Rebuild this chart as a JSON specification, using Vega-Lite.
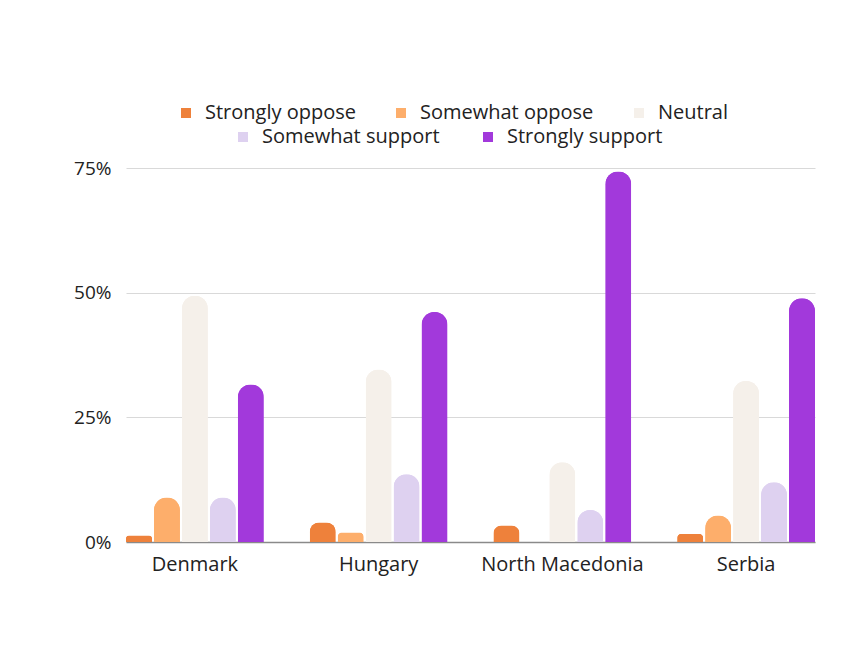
{
  "$schema": "https://vega.github.io/schema/vega-lite/v6.json",
  "width": 689,
  "height": 374,
  "autosize": {"type": "none"},
  "padding": {"left": 126, "top": 168, "right": 47, "bottom": 117},
  "background": "white",
  "config": {"view": {"stroke": null}, "font": "Open Sans"},
  "data": {
    "values": [
      {"country": "Denmark", "response": "Strongly oppose", "value": 1.3},
      {"country": "Denmark", "response": "Somewhat oppose", "value": 8.9},
      {"country": "Denmark", "response": "Neutral", "value": 49.4},
      {"country": "Denmark", "response": "Somewhat support", "value": 8.9},
      {"country": "Denmark", "response": "Strongly support", "value": 31.6},
      {"country": "Hungary", "response": "Strongly oppose", "value": 3.9},
      {"country": "Hungary", "response": "Somewhat oppose", "value": 1.9},
      {"country": "Hungary", "response": "Neutral", "value": 34.6},
      {"country": "Hungary", "response": "Somewhat support", "value": 13.6},
      {"country": "Hungary", "response": "Strongly support", "value": 46.1},
      {"country": "North Macedonia", "response": "Strongly oppose", "value": 3.3},
      {"country": "North Macedonia", "response": "Somewhat oppose", "value": 0},
      {"country": "North Macedonia", "response": "Neutral", "value": 16},
      {"country": "North Macedonia", "response": "Somewhat support", "value": 6.4},
      {"country": "North Macedonia", "response": "Strongly support", "value": 74.3},
      {"country": "Serbia", "response": "Strongly oppose", "value": 1.6},
      {"country": "Serbia", "response": "Somewhat oppose", "value": 5.3},
      {"country": "Serbia", "response": "Neutral", "value": 32.3},
      {"country": "Serbia", "response": "Somewhat support", "value": 12},
      {"country": "Serbia", "response": "Strongly support", "value": 48.9}
    ]
  },
  "encoding": {
    "x": {
      "field": "country", "type": "nominal", "sort": null,
      "scale": {"paddingInner": 0.25, "paddingOuter": 0},
      "axis": {"title": null, "labelAngle": 0, "ticks": false, "domainColor": "#8a8a8a", "domainWidth": 1.5, "labelFontSize": 20, "labelColor": "#222222", "labelPadding": 12}
    },
    "xOffset": {
      "field": "response", "type": "nominal",
      "sort": ["Strongly oppose", "Somewhat oppose", "Neutral", "Somewhat support", "Strongly support"],
      "scale": {"paddingInner": 0.07, "paddingOuter": 0}
    },
    "y": {
      "field": "value", "type": "quantitative",
      "scale": {"domain": [0, 75], "nice": false},
      "axis": {"title": null, "domain": false, "ticks": false, "values": [0, 25, 50, 75], "labelExpr": "datum.value + '%'", "gridColor": "#d9d9d9", "labelFontSize": 19, "labelColor": "#222222", "labelPadding": 15}
    }
  },
  "layer": [
    {
      "mark": {"type": "bar", "cornerRadiusTopLeft": 13, "cornerRadiusTopRight": 13},
      "encoding": {
        "color": {
          "field": "response", "type": "nominal",
          "scale": {"domain": ["Strongly oppose", "Somewhat oppose", "Neutral", "Somewhat support", "Strongly support"], "range": ["#EE813B", "#FDAE6B", "#F5F0EA", "#DED1F0", "#A239DB"]},
          "legend": {"values": ["Strongly oppose", "Somewhat oppose", "Neutral"], "orient": "none", "legendX": 50, "legendY": -65, "direction": "horizontal", "title": null, "symbolType": "square", "symbolSize": 100, "symbolStrokeWidth": 0, "labelFontSize": 20, "labelColor": "#222222", "labelOffset": 9, "columnPadding": 35, "padding": 0, "labelLimit": 300}
        }
      }
    },
    {
      "mark": {"type": "bar", "cornerRadiusTopLeft": 13, "cornerRadiusTopRight": 13},
      "encoding": {
        "color": {
          "field": "response", "type": "nominal",
          "scale": {"domain": ["Strongly oppose", "Somewhat oppose", "Neutral", "Somewhat support", "Strongly support"], "range": ["#EE813B", "#FDAE6B", "#F5F0EA", "#DED1F0", "#A239DB"]},
          "legend": {"values": ["Somewhat support", "Strongly support"], "orient": "none", "legendX": 107, "legendY": -41, "direction": "horizontal", "title": null, "symbolType": "square", "symbolSize": 100, "symbolStrokeWidth": 0, "labelFontSize": 20, "labelColor": "#222222", "labelOffset": 9, "columnPadding": 38, "padding": 0, "labelLimit": 300}
        }
      }
    }
  ],
  "resolve": {"scale": {"color": "independent"}}
}
